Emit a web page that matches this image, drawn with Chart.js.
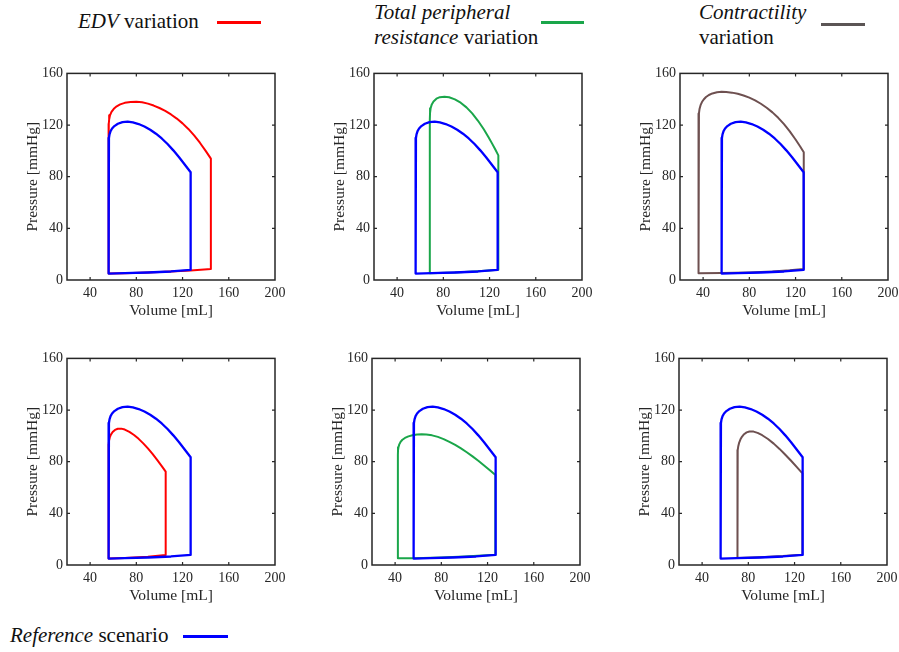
<!DOCTYPE html>
<html>
<head>
<meta charset="utf-8">
<script src="https://cdn.jsdelivr.net/npm/chart.js@4.4.1/dist/chart.umd.min.js"></script>
<style>
  html, body { margin: 0; padding: 0; background: #fff; }
  #page { position: relative; width: 899px; height: 652px; overflow: hidden; background: #fff;
          font-family: 'Liberation Serif', 'Times New Roman', serif; color: #111; }
  #page canvas { position: absolute; }
  .lbl { position: absolute; font-size: 21px; line-height: 25px; white-space: nowrap; }
  .key { position: absolute; height: 3px; }
</style>
</head>
<body>
<div id="page">
  <div class="lbl" style="left:78px; top:9px;"><i>EDV</i> variation</div>
  <div class="key" style="left:217px; top:21px; width:44px; background:#ff0000;"></div>

  <div class="lbl" style="left:374px; top:0px;"><i>Total peripheral</i><br><i>resistance</i> variation</div>
  <div class="key" style="left:541px; top:21px; width:43px; background:#1aa64a;"></div>

  <div class="lbl" style="left:699px; top:0px;"><i>Contractility</i><br>variation</div>
  <div class="key" style="left:821px; top:23px; width:44px; background:#5b5555;"></div>

  <div class="lbl" style="left:10px; top:623px;"><i>Reference</i> scenario</div>
  <div class="key" style="left:183px; top:635px; width:45px; background:#0000ff;"></div>
</div>

<script>
// axes
const X_TICKS = [40, 80, 120, 160, 200];
const Y_TICKS = [0, 40, 80, 120, 160];

// reference loop (volume mL, pressure mmHg), walked round the loop
const refVol  = [56, 70, 90, 110, 127, 127, 122, 117, 112, 107, 102, 97, 92, 87, 82, 77, 72.5, 68, 64, 61, 59, 57.7, 56.8, 56.3, 56.05, 56, 56];
const refPres = [5, 5.3, 5.8, 6.6, 7.8, 83.5, 89.3, 95, 100.4, 105.3, 109.6, 113.3, 116.4, 118.9, 120.8, 122, 122.6, 122.3, 121, 119.2, 117.3, 115.3, 112.8, 110, 106, 100, 5];

// EDV variation
const edvUpVol    = [56, 70, 90, 110, 127, 144.5, 144.5, 140, 135, 130, 125, 120, 115, 110, 105, 100, 95, 90, 85, 80, 75, 70, 66, 63, 60.5, 58.5, 57.2, 56.5, 56.15, 56, 56];
const edvUpPres   = [5, 5.3, 5.8, 6.5, 7.4, 8.5, 94, 100, 106.3, 112, 117, 121.3, 125, 128.2, 130.9, 133.2, 135.1, 136.6, 137.6, 138, 137.9, 137.2, 136, 134.5, 132.6, 130.2, 127.5, 124.5, 121, 116, 5];
const edvDownVol  = [56, 70, 90, 105.4, 105.4, 102, 98, 94, 90, 86, 82, 78, 74, 70, 67, 64, 61.5, 59.5, 58, 57, 56.4, 56.1, 56, 56];
const edvDownPres = [5, 5.5, 6.3, 7.8, 72.3, 76.6, 81.4, 86, 90.3, 94.2, 97.7, 100.7, 103.1, 104.9, 105.6, 105.5, 104.6, 103, 101, 98.8, 96.3, 93.5, 90, 5];

// total peripheral resistance variation
const tprUpVol    = [68.3, 90, 110, 127.6, 127.6, 125, 122, 119, 115, 110, 105, 100, 95, 90, 85, 81, 77, 74, 71.5, 70, 69, 68.5, 68.3, 68.3];
const tprUpPres   = [5.3, 5.8, 6.8, 8, 96.5, 101, 106, 110.8, 116.7, 123.3, 129, 133.7, 137.3, 139.9, 141.5, 142, 141.6, 140.4, 138.3, 136, 133, 129.5, 124, 5.3];
const tprDownVol  = [42.4, 56, 80, 100, 126.8, 126.8, 122, 117, 112, 107, 102, 97, 92, 87, 82, 77, 72, 67, 63, 59, 55, 51.5, 48.5, 46.3, 44.7, 43.6, 42.9, 42.5, 42.4, 42.4];
const tprDownPres = [5.2, 5.3, 5.9, 6.6, 7.9, 69.7, 73.4, 77.1, 80.7, 84.1, 87.3, 90.3, 93, 95.4, 97.5, 99.2, 100.4, 101.1, 101.3, 101.1, 100.5, 99.6, 98.4, 97, 95.3, 93.4, 91.2, 88.5, 85, 5.2];

// contractility variation
const ctrUpVol    = [36, 56, 80, 100, 115, 127.1, 127.1, 124, 120, 115, 110, 105, 100, 95, 90, 85, 80, 75, 70, 65, 60, 56, 52, 48, 45, 42.5, 40.5, 39, 37.8, 36.9, 36.4, 36.1, 36, 36];
const ctrUpPres   = [5.2, 5.4, 5.9, 6.6, 7.5, 8.5, 99, 103.4, 108.8, 115.1, 120.7, 125.6, 129.8, 133.4, 136.5, 139.1, 141.2, 142.9, 144.2, 145.1, 145.6, 145.7, 145.4, 144.5, 143.3, 141.7, 139.8, 137.8, 135.4, 132.5, 129, 125, 120, 5.2];
const ctrDownVol  = [70.6, 90, 110, 126.8, 126.8, 122, 117, 112, 107, 102, 97, 92, 88, 84.5, 81, 78.5, 76.3, 74.6, 73.2, 72.1, 71.3, 70.8, 70.6, 70.6];
const ctrDownPres = [5.4, 6, 6.9, 8, 71, 75.8, 80.7, 85.4, 89.9, 94, 97.6, 100.5, 102.3, 103.3, 103.4, 102.7, 101.3, 99.5, 97.3, 94.8, 92, 89, 86, 5.4];

const RED = '#ff0000', GREEN = '#1aa64a', BROWN = '#6e5050', BLUE = '#0000ff';
const FONT = "'Liberation Serif', 'Times New Roman', serif";
const INK = '#262626';

const PLOT_W = 208, PLOT_H = 207;
const Y_AXIS_W = 46, X_AXIS_H = 40, PAD_TOP = 12, PAD_RIGHT = 16, PAD_BOTTOM = 2;

const panels = [
  { left: 67,  top: 73,  vol: edvUpVol,    pres: edvUpPres,    color: RED },
  { left: 374, top: 73,  vol: tprUpVol,    pres: tprUpPres,    color: GREEN },
  { left: 680, top: 73,  vol: ctrUpVol,    pres: ctrUpPres,    color: BROWN },
  { left: 67,  top: 358, vol: edvDownVol,  pres: edvDownPres,  color: RED },
  { left: 372, top: 358, vol: tprDownVol,  pres: tprDownPres,  color: GREEN },
  { left: 679, top: 358, vol: ctrDownVol,  pres: ctrDownPres,  color: BROWN }
];

const toPoints = (vol, pres) => vol.map((v, i) => ({ x: v, y: pres[i] }));

// box round the plot with small inward ticks on all sides
const framePlugin = {
  id: 'frame',
  afterDatasetsDraw(chart) {
    const { ctx, chartArea: a, scales: { x, y } } = chart;
    ctx.save();
    ctx.strokeStyle = INK;
    ctx.lineWidth = 1.5;
    ctx.strokeRect(a.left, a.top, a.right - a.left, a.bottom - a.top);
    ctx.lineWidth = 1.2;
    ctx.beginPath();
    X_TICKS.forEach(v => {
      const px = x.getPixelForValue(v);
      if (px > a.left + 2 && px < a.right - 2) {
        ctx.moveTo(px, a.bottom); ctx.lineTo(px, a.bottom - 3);
        ctx.moveTo(px, a.top);    ctx.lineTo(px, a.top + 3);
      }
    });
    Y_TICKS.forEach(v => {
      const py = y.getPixelForValue(v);
      if (py > a.top + 2 && py < a.bottom - 2) {
        ctx.moveTo(a.left, py);  ctx.lineTo(a.left + 3, py);
        ctx.moveTo(a.right, py); ctx.lineTo(a.right - 3, py);
      }
    });
    ctx.stroke();
    ctx.restore();
  }
};

const page = document.getElementById('page');

panels.forEach(p => {
  const canvas = document.createElement('canvas');
  canvas.width = Y_AXIS_W + PLOT_W + PAD_RIGHT;
  canvas.height = PAD_TOP + PLOT_H + X_AXIS_H + PAD_BOTTOM;
  canvas.style.left = (p.left - Y_AXIS_W) + 'px';
  canvas.style.top = (p.top - PAD_TOP) + 'px';
  page.appendChild(canvas);

  new Chart(canvas.getContext('2d'), {
    type: 'scatter',
    data: {
      datasets: [
        {
          data: toPoints(refVol, refPres),
          showLine: true, borderColor: BLUE, borderWidth: 2.3, borderJoinStyle: 'round',
          pointRadius: 0, tension: 0, fill: false
        },
        {
          data: toPoints(p.vol, p.pres),
          showLine: true, borderColor: p.color, borderWidth: 2, borderJoinStyle: 'round',
          pointRadius: 0, tension: 0, fill: false
        }
      ]
    },
    options: {
      responsive: false,
      animation: false,
      events: [],
      layout: { padding: { top: PAD_TOP, right: PAD_RIGHT, bottom: PAD_BOTTOM, left: 0 } },
      plugins: { legend: { display: false }, tooltip: { enabled: false } },
      scales: {
        x: {
          type: 'linear', min: 20, max: 200,
          grid: { display: false, drawTicks: false },
          border: { display: false },
          afterBuildTicks: s => { s.ticks = X_TICKS.map(v => ({ value: v })); },
          afterFit: s => { s.height = X_AXIS_H; },
          ticks: { color: INK, padding: 5, maxRotation: 0, font: { family: FONT, size: 14 } },
          title: { display: true, text: 'Volume [mL]', color: INK, padding: 0,
                   font: { family: FONT, size: 15.5 } }
        },
        y: {
          type: 'linear', min: 0, max: 160,
          grid: { display: false, drawTicks: false },
          border: { display: false },
          afterBuildTicks: s => { s.ticks = Y_TICKS.map(v => ({ value: v })); },
          afterFit: s => { s.width = Y_AXIS_W; },
          ticks: { color: INK, padding: 4, font: { family: FONT, size: 14 } },
          title: { display: true, text: 'Pressure [mmHg]', color: INK, padding: { top: 3, bottom: 0 },
                   font: { family: FONT, size: 15.5 } }
        }
      }
    },
    plugins: [framePlugin]
  });
});
</script>
</body>
</html>
